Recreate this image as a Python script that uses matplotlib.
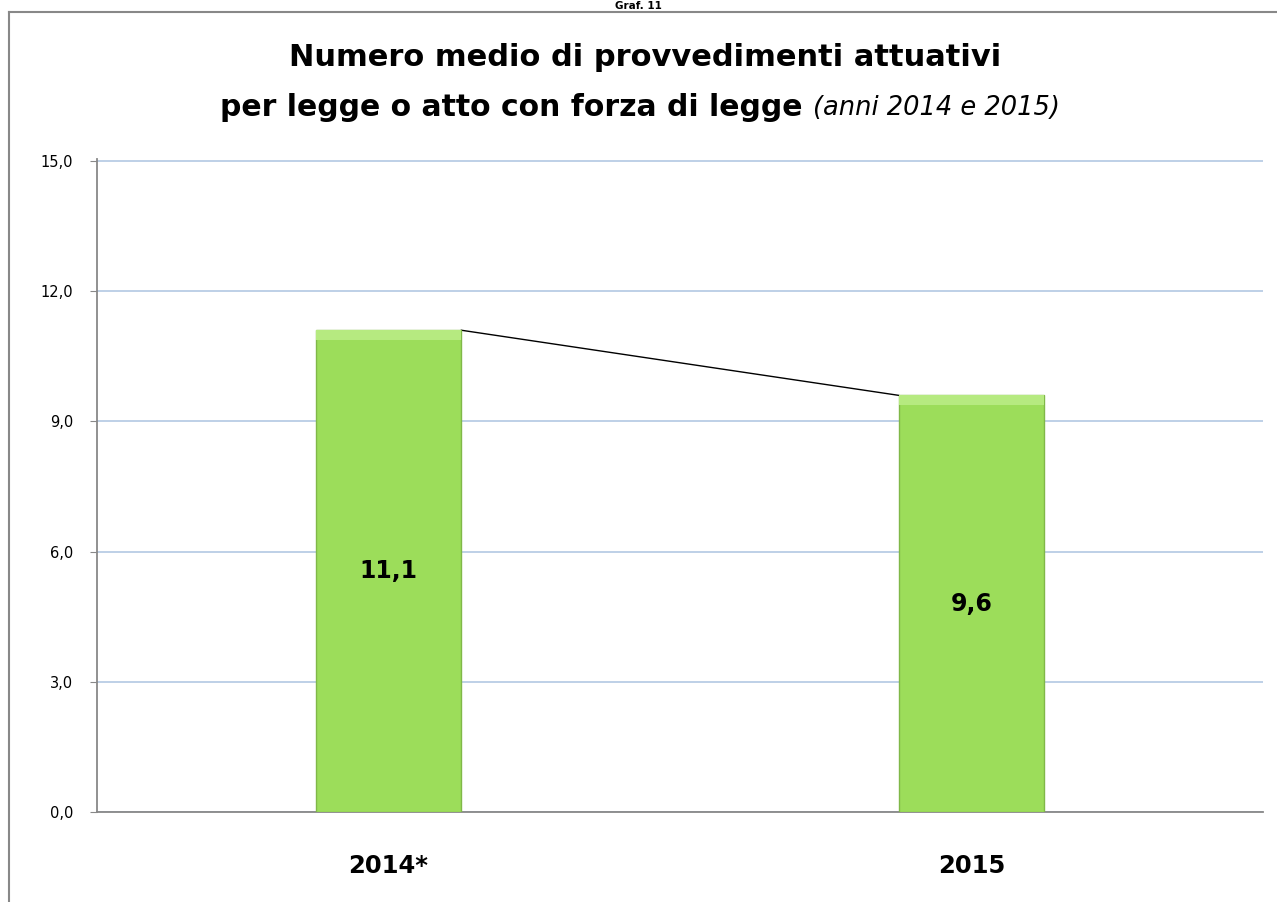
import matplotlib.pyplot as plt
from matplotlib.lines import Line2D
import numpy as np

# Data
categories = ["2014*", "2015"]
values = [11.1, 9.6]
value_labels = ["11,1", "9,6"]
y_ticks = [0, 3, 6, 9, 12, 15]
y_tick_labels = ["0,0", "3,0", "6,0", "9,0", "12,0", "15,0"]

plt.rcParams["font.family"] = "DejaVu Sans"

fig = plt.figure(figsize=(12.77, 9.02), dpi=100)
ax = fig.add_axes([97 / 1277, 90 / 902, 1166 / 1277, 653.2 / 902])

x = np.arange(len(categories))
width = 0.25
ax.bar(x, values, width=width, color="#9CDD5A", edgecolor="#80B848",
       linewidth=1.0, zorder=3)
# lighter bevel on top of each bar
ax.bar(x, [0.22] * len(values), bottom=[v - 0.22 for v in values], width=width,
       color="#B6EA80", linewidth=0, zorder=4)

# series line between bar tops
ax.plot([x[0] + width / 2, x[1] - width / 2], values, color="black",
        linewidth=1.0, zorder=2)

for xi, v, lab in zip(x, values, value_labels):
    ax.text(xi, v / 2, lab, ha="center", va="center", fontsize=17,
            fontweight="bold", zorder=5)

ax.set_xlim(-0.5, 1.5)
ax.set_ylim(0, 15.05)
ax.set_yticks(y_ticks)
ax.set_yticklabels(y_tick_labels, fontsize=10.5)
ax.set_xticks(x)
ax.set_xticklabels(categories, fontsize=17.5, fontweight="bold")
ax.tick_params(axis="x", length=0, pad=30)
ax.tick_params(axis="y", length=5, color="#888888", pad=12)
ax.grid(axis="y", color="#B9CDE5", linewidth=1.3, zorder=0)
ax.spines["top"].set_visible(False)
ax.spines["right"].set_visible(False)
ax.spines["left"].set_color("#888888")
ax.spines["bottom"].set_color("#888888")
ax.spines["left"].set_linewidth(1.3)
ax.spines["bottom"].set_linewidth(1.3)

# title
split_x = 813 / 1277
fig.text(0.5 + 0.005, 1 - 58 / 902, "Numero medio di provvedimenti attuativi",
         ha="center", va="center", fontsize=22, fontweight="bold")
fig.text(split_x, 1 - 108 / 902, "per legge o atto con forza di legge ",
         ha="right", va="center", fontsize=21.5, fontweight="bold")
fig.text(split_x, 1 - 108 / 902, "(anni 2014 e 2015)", ha="left",
         va="center", fontsize=18.5, style="italic")

# heading above the frame
fig.text(0.5, 1 - 1 / 902, "Graf. 11", ha="center", va="top", fontsize=7.5,
         fontweight="bold")

# chart frame
fig.add_artist(Line2D([9 / 1277, 9 / 1277], [0, 1 - 12 / 902],
                      transform=fig.transFigure, color="#888888", lw=1.5))
fig.add_artist(Line2D([9 / 1277, 1], [1 - 12 / 902, 1 - 12 / 902],
                      transform=fig.transFigure, color="#888888", lw=1.5))

plt.savefig("out.png", dpi=100)
